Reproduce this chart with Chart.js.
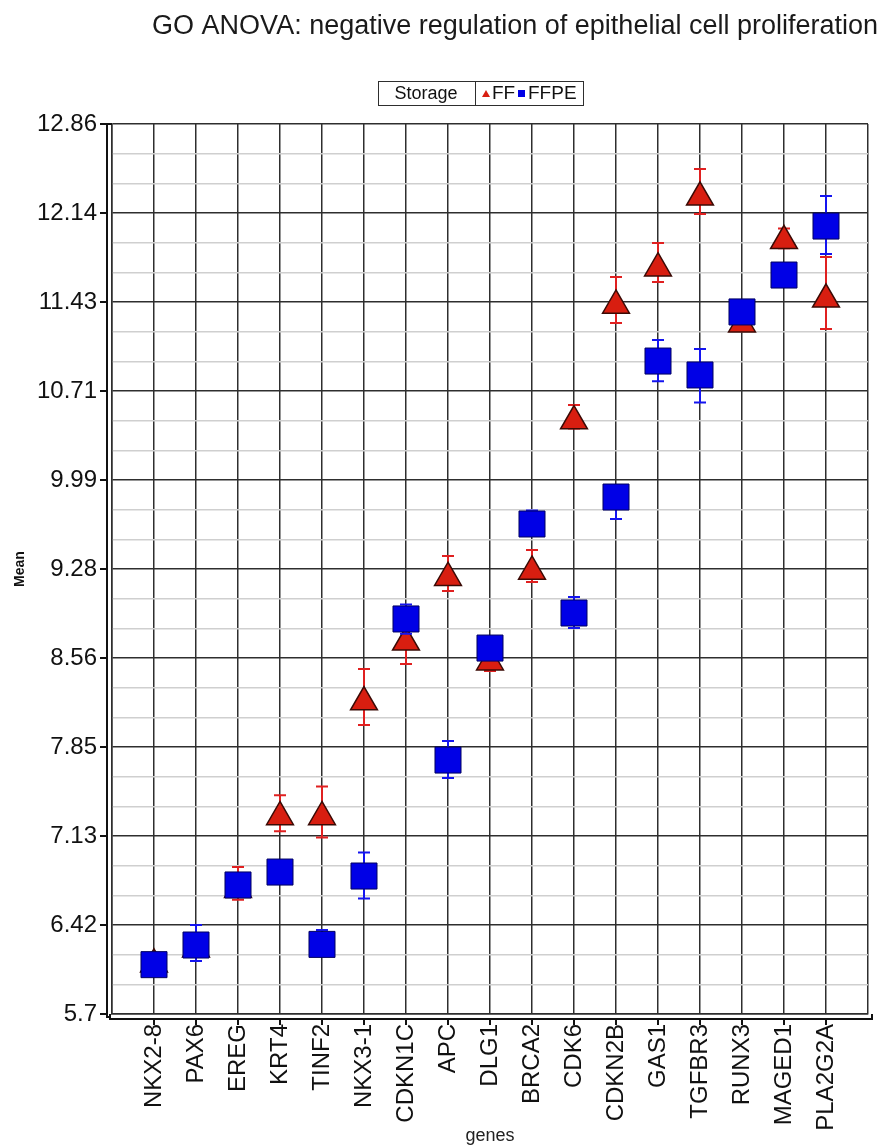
<!DOCTYPE html>
<html>
<head>
<meta charset="utf-8">
<script src="https://cdn.jsdelivr.net/npm/chart.js@4.4.1/dist/chart.umd.min.js"></script>
<style>
  body { margin: 0; background: #fff; }
  #wrap { width: 878px; height: 1147px; }
</style>
</head>
<body>
<div id="wrap"><canvas id="goChart" width="878" height="1147"></canvas></div>
<script>
// genes on the x axis
const genes = ['NKX2-8', 'PAX6', 'EREG', 'KRT4', 'TINF2', 'NKX3-1', 'CDKN1C', 'APC', 'DLG1',
  'BRCA2', 'CDK6', 'CDKN2B', 'GAS1', 'TGFBR3', 'RUNX3', 'MAGED1', 'PLA2G2A'];

// FF (fresh frozen) means and error limits
const ffMean = [6.10, 6.22, 6.70, 7.285, 7.285, 8.21, 8.69, 9.21, 8.53, 9.26, 10.47, 11.40, 11.70, 12.27, 11.25, 11.92, 11.45];
const ffLow  = [6.05, 6.16, 6.62, 7.17, 7.12, 8.025, 8.516, 9.103, 8.46, 9.175, 10.41, 11.259, 11.589, 12.136, 11.20, 11.86, 11.21];
const ffHigh = [6.15, 6.30, 6.882, 7.46, 7.53, 8.475, 8.86, 9.385, 8.60, 9.433, 10.60, 11.629, 11.903, 12.498, 11.31, 12.02, 11.79];

// FFPE means and error limits
const ffpeMean = [6.097, 6.255, 6.738, 6.842, 6.26, 6.81, 8.878, 7.743, 8.644, 9.642, 8.926, 9.859, 10.953, 10.841, 11.348, 11.645, 12.039];
const ffpeLow  = [6.03, 6.126, 6.66, 6.77, 6.20, 6.63, 8.76, 7.599, 8.58, 9.55, 8.805, 9.682, 10.79, 10.62, 11.27, 11.57, 11.814];
const ffpeHigh = [6.16, 6.416, 6.82, 6.92, 6.376, 7.00, 8.995, 7.896, 8.71, 9.75, 9.055, 9.952, 11.122, 11.05, 11.42, 11.72, 12.28];

// y axis labels (every third grid line)
const yTickLabels = ['5.7', '6.42', '7.13', '7.85', '8.56', '9.28', '9.99', '10.71', '11.43', '12.14', '12.86'];

const FONT = "'Liberation Sans', Arial, sans-serif";
const DARK = '#2e2e2e';

function points(means) {
  return means.map((v, i) => ({ x: i, y: v }));
}

// whiskers drawn just before each dataset's markers
const errorBars = {
  id: 'errorBars',
  beforeDatasetDraw(chart, args) {
    const ds = chart.data.datasets[args.index];
    const xs = chart.scales.x, ys = chart.scales.y;
    const ctx = chart.ctx;
    ctx.save();
    ctx.strokeStyle = ds.errColor;
    ctx.lineWidth = 2;
    ds.low.forEach((lo, i) => {
      const px = xs.getPixelForValue(i);
      const top = ys.getPixelForValue(ds.high[i]);
      const bot = ys.getPixelForValue(lo);
      ctx.beginPath();
      ctx.moveTo(px, top); ctx.lineTo(px, bot);
      ctx.moveTo(px - 6, top); ctx.lineTo(px + 6, top);
      ctx.moveTo(px - 6, bot); ctx.lineTo(px + 6, bot);
      ctx.stroke();
    });
    ctx.restore();
  }
};

// detached axis lines + legend box
const frame = {
  id: 'frame',
  afterDraw(chart) {
    const ctx = chart.ctx;
    const a = chart.chartArea;
    const xs = chart.scales.x, ys = chart.scales.y;
    ctx.save();
    ctx.strokeStyle = '#111';
    ctx.lineWidth = 2;
    // y axis
    const ax = a.left - 5;
    ctx.beginPath();
    ctx.moveTo(a.left, a.top); ctx.lineTo(ax, a.top); ctx.lineTo(ax, a.bottom + 3); ctx.lineTo(a.left - 1, a.bottom + 3);
    ys.ticks.forEach((t, i) => {
      if (i % 3 !== 0) return;
      const py = ys.getPixelForTick(i);
      ctx.moveTo(ax, py); ctx.lineTo(ax - 7, py);
    });
    // x axis
    const ay = a.bottom + 5;
    ctx.moveTo(a.left - 2, a.bottom); ctx.lineTo(a.left - 2, ay); ctx.lineTo(a.right + 4, ay); ctx.lineTo(a.right + 4, a.bottom);
    genes.forEach((g, i) => {
      const px = xs.getPixelForValue(i);
      ctx.moveTo(px, ay); ctx.lineTo(px, ay + 6);
    });
    ctx.stroke();

    // legend
    ctx.lineWidth = 1;
    ctx.strokeStyle = DARK;
    ctx.fillStyle = '#fff';
    ctx.fillRect(378, 81, 205, 24);
    ctx.strokeRect(378.5, 81.5, 205, 24);
    ctx.beginPath();
    ctx.moveTo(475.5, 81.5); ctx.lineTo(475.5, 105.5);
    ctx.stroke();
    ctx.fillStyle = '#111';
    ctx.font = '18px ' + FONT;
    ctx.textBaseline = 'middle';
    ctx.textAlign = 'center';
    ctx.fillText('Storage', 426, 94);
    ctx.textAlign = 'left';
    ctx.font = '19px ' + FONT;
    ctx.fillStyle = '#d81e10';
    ctx.beginPath();
    ctx.moveTo(486, 90); ctx.lineTo(490, 97); ctx.lineTo(482, 97); ctx.closePath();
    ctx.fill();
    ctx.fillStyle = '#111';
    ctx.fillText('FF', 492, 94);
    ctx.fillStyle = '#0000e6';
    ctx.fillRect(518, 90, 7, 7);
    ctx.fillStyle = '#111';
    ctx.fillText('FFPE', 528, 94);
    ctx.restore();
  }
};

const data = {
  datasets: [{
    label: 'FF',
    data: points(ffMean),
    low: ffLow,
    high: ffHigh,
    errColor: '#e02020',
    pointStyle: 'triangle',
    pointRadius: 15.5,
    backgroundColor: '#d81e10',
    borderColor: '#3a0a05',
    borderWidth: 1.5,
    order: 1
  }, {
    label: 'FFPE',
    data: points(ffpeMean),
    low: ffpeLow,
    high: ffpeHigh,
    errColor: '#1414f0',
    pointStyle: 'rect',
    pointRadius: 18.4,
    backgroundColor: '#0000e6',
    borderColor: '#000060',
    borderWidth: 1,
    order: 0
  }]
};

const config = {
  type: 'scatter',
  data: data,
  options: {
    responsive: false,
    animation: false,
    layout: { padding: 0, autoPadding: false },
    plugins: {
      legend: { display: false },
      tooltip: { enabled: false },
      title: {
        display: true,
        text: 'GO ANOVA: negative regulation of epithelial cell proliferation',
        align: 'end',
        color: '#1a1a1a',
        font: { family: FONT, size: 27, weight: 'normal' },
        padding: { top: 10, bottom: 81.6 }
      }
    },
    scales: {
      x: {
        type: 'linear',
        min: -1,
        max: 17,
        afterFit(s) { s.height = 133; s.paddingLeft = 0; s.paddingRight = 0; },
        ticks: {
          stepSize: 1,
          autoSkip: false,
          minRotation: 90,
          maxRotation: 90,
          padding: 10,
          color: '#111',
          font: { family: FONT, size: 24 },
          callback: (v) => genes[v] || ''
        },
        grid: { color: DARK, lineWidth: 1.5, drawTicks: false },
        border: { color: DARK, width: 1.5 },
        title: {
          display: true,
          text: 'genes',
          color: '#222',
          font: { family: FONT, size: 18 },
          padding: { top: 0, bottom: 0 }
        }
      },
      y: {
        min: 5.7,
        max: 12.86,
        afterFit(s) { s.width = 112; },
        ticks: {
          count: 31,
          autoSkip: false,
          padding: 15,
          color: '#111',
          font: { family: FONT, size: 24 },
          callback: (v, i) => (i % 3 === 0 ? yTickLabels[i / 3] : '')
        },
        grid: {
          drawTicks: false,
          color: (c) => (c.index % 3 === 0 ? DARK : '#cfcfcf'),
          lineWidth: 1.5
        },
        border: { color: DARK, width: 1.5 },
        title: {
          display: true,
          text: 'Mean',
          color: '#111',
          font: { family: FONT, size: 14, weight: 'bold' },
          padding: { top: 12, bottom: 0 }
        }
      },
      yRight: {
        position: 'right',
        min: 0,
        max: 1,
        afterFit(s) { s.width = 10; },
        ticks: { display: false },
        grid: { display: false, drawTicks: false },
        border: { display: false }
      }
    }
  },
  plugins: [errorBars, frame]
};

new Chart(document.getElementById('goChart'), config);
</script>
</body>
</html>
